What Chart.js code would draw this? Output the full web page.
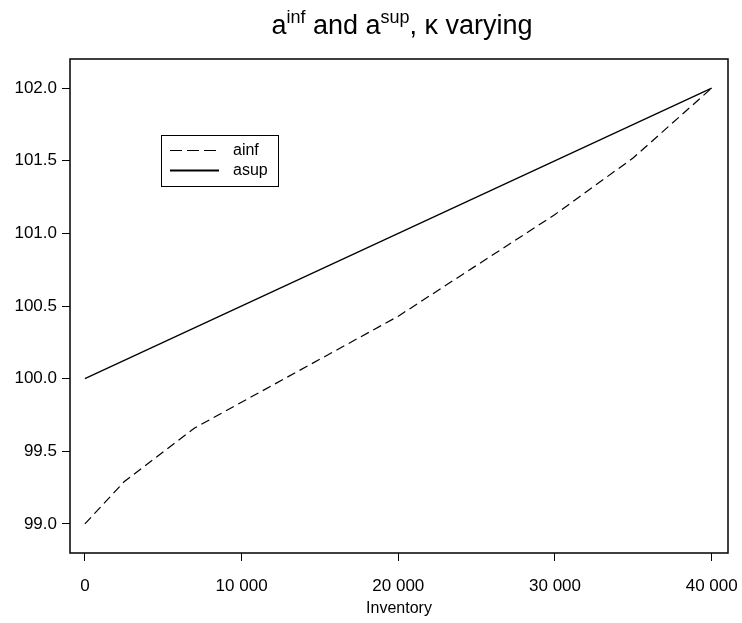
<!DOCTYPE html>
<html>
<head>
<meta charset="utf-8">
<script src="https://cdn.jsdelivr.net/npm/chart.js@4"></script>
<style>
  html, body { margin: 0; padding: 0; background: #fff; }
  #wrap { width: 742px; height: 623px; }
</style>
</head>
<body>
<div id="wrap"><canvas id="invChart" width="742" height="623"></canvas></div>
<script>
// data
var inventory = [0, 2500, 7000, 20000, 30000, 35000, 40000];
var ainf = [99.0, 99.29, 99.66, 100.43, 101.13, 101.52, 102.0];
var supInventory = [0, 40000];
var asup = [100.0, 102.0];
var xTicks = [0, 10000, 20000, 30000, 40000];
var yTicks = [99.0, 99.5, 100.0, 100.5, 101.0, 101.5, 102.0];

var FONT = 'Arial, "Liberation Sans", sans-serif';

function toPoints(xs, ys) {
    return xs.map(function (x, i) { return { x: x, y: ys[i] }; });
}

// box around the plot area, R style
var boxPlugin = {
    id: 'box',
    afterDraw: function (chart) {
        var a = chart.chartArea;
        var c = chart.ctx;
        c.save();
        c.strokeStyle = '#000';
        c.lineWidth = 1.5;
        c.strokeRect(a.left, a.top, a.right - a.left, a.bottom - a.top);
        c.restore();
    }
};

// title with superscripts
var titlePlugin = {
    id: 'supTitle',
    afterDraw: function (chart) {
        var c = chart.ctx;
        var a = chart.chartArea;
        var parts = [
            ['a', false], ['inf', true], [' and a', false], ['sup', true], [', \u03ba varying', false]
        ];
        var big = '27px ' + FONT, small = '18px ' + FONT;
        c.save();
        var w = 0;
        parts.forEach(function (p) {
            c.font = p[1] ? small : big;
            w += c.measureText(p[0]).width;
        });
        var x = (a.left + a.right) / 2 - w / 2 + 3;
        var base = 34;
        c.fillStyle = '#000';
        c.textBaseline = 'alphabetic';
        c.textAlign = 'left';
        parts.forEach(function (p) {
            c.font = p[1] ? small : big;
            c.fillText(p[0], x, p[1] ? base - 11 : base);
            x += c.measureText(p[0]).width;
        });
        c.restore();
    }
};

// boxed legend inside the plot
var legendPlugin = {
    id: 'boxLegend',
    afterDraw: function (chart) {
        var c = chart.ctx;
        var left = 161, top = 135, w = 117, h = 51;
        c.save();
        c.fillStyle = '#fff';
        c.fillRect(left, top, w, h);
        c.strokeStyle = '#000';
        c.lineWidth = 1;
        c.strokeRect(left + 0.5, top + 0.5, w, h);
        c.font = '16px ' + FONT;
        c.textBaseline = 'middle';
        c.fillStyle = '#000';
        chart.data.datasets.forEach(function (ds, i) {
            var y = top + 15.5 + i * 20;
            c.beginPath();
            c.setLineDash(i === 0 ? [12, 5] : []);
            c.lineWidth = i === 0 ? 1.2 : 2;
            c.moveTo(left + 9, y);
            c.lineTo(left + 58, y);
            c.stroke();
            c.setLineDash([]);
            c.fillText(ds.label, left + 72, y);
        });
        c.restore();
    }
};

var ctx = document.getElementById('invChart').getContext('2d');
var invChart = new Chart(ctx, {
    type: 'scatter',
    data: {
        datasets: [{
            label: 'ainf',
            data: toPoints(inventory, ainf),
            showLine: true,
            borderColor: '#000',
            borderWidth: 1.2,
            borderDash: [9, 5],
            pointRadius: 0,
            tension: 0
        }, {
            label: 'asup',
            data: toPoints(supInventory, asup),
            showLine: true,
            borderColor: '#000',
            borderWidth: 1.3,
            pointRadius: 0,
            tension: 0
        }]
    },
    options: {
        responsive: false,
        animation: false,
        layout: { padding: { top: 59, right: 14, left: 0, bottom: 0 } },
        plugins: {
            legend: { display: false },
            tooltip: { enabled: false },
            title: { display: false }
        },
        scales: {
            x: {
                type: 'linear',
                min: -950,
                max: 41040,
                afterBuildTicks: function (axis) {
                    axis.ticks = xTicks.map(function (v) { return { value: v }; });
                },
                afterFit: function (axis) {
                    axis.height = 70;
                    axis.paddingLeft = 0;
                    axis.paddingRight = 0;
                },
                grid: { display: true, drawOnChartArea: false, drawTicks: true, tickLength: 8, color: '#000', tickColor: '#000', tickWidth: 1 },
                border: { display: false },
                ticks: {
                    color: '#000',
                    font: { family: FONT, size: 17 },
                    padding: 15,
                    maxRotation: 0,
                    autoSkip: false,
                    callback: function (v) {
                        return String(v).replace(/\B(?=(\d{3})+(?!\d))/g, ' ');
                    }
                },
                title: {
                    display: true,
                    text: 'Inventory',
                    color: '#000',
                    font: { family: FONT, size: 16 },
                    padding: { top: 0, bottom: 5 }
                }
            },
            y: {
                type: 'linear',
                min: 98.8,
                max: 102.2,
                afterBuildTicks: function (axis) {
                    axis.ticks = yTicks.map(function (v) { return { value: v }; });
                },
                afterFit: function (axis) {
                    axis.width = 70;
                    axis.paddingTop = 0;
                    axis.paddingBottom = 0;
                },
                grid: { display: true, drawOnChartArea: false, drawTicks: true, tickLength: 8, color: '#000', tickColor: '#000', tickWidth: 1 },
                border: { display: false },
                ticks: {
                    color: '#000',
                    font: { family: FONT, size: 17 },
                    padding: 5,
                    autoSkip: false,
                    callback: function (v) { return Number(v).toFixed(1); }
                }
            }
        }
    },
    plugins: [boxPlugin, titlePlugin, legendPlugin]
});
</script>
</body>
</html>
